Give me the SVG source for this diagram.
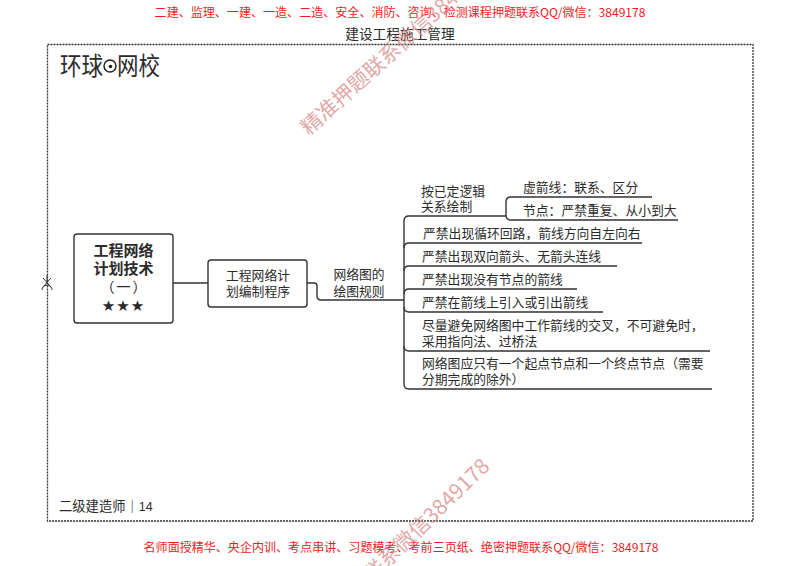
<svg xmlns="http://www.w3.org/2000/svg" width="800" height="566" viewBox="0 0 800 566">
<style>
text{font-family:"Noto Sans CJK SC","Liberation Sans",sans-serif;fill:#2b2b2b}
.t{font-size:12.8px}
.red{font-size:12.05px;fill:#f01c24}
.wm{font-size:21px;fill:#d98a8a;fill-opacity:.75}
.box{fill:#fff;stroke:#333;stroke-width:1.4}
.ln{fill:none;stroke:#333;stroke-width:1.4}
.c{text-anchor:middle}
</style>
<rect width="800" height="566" fill="#fff"/>
<rect id="frame" x="47.5" y="44.5" width="705.5" height="476.500" fill="none" stroke="#333" stroke-width="1.3" stroke-dasharray="2 1"/>
<g id="connectors">
<path class="ln" d="M173 283H208"/>
<path class="ln" d="M307 283H314Q317 283 317 286V296Q317 300 321 300H404"/>
<path class="ln" d="M409 216Q404 216 404 221V384Q404 389 409 389H712"/>
<path class="ln" d="M404 248Q404 243 409 243H642"/>
<path class="ln" d="M404 271Q404 266 409 266H617"/>
<path class="ln" d="M404 294Q404 289 409 289H577"/>
<path class="ln" d="M404 307Q404 312 409 312H603"/>
<path class="ln" d="M404 346Q404 351 409 351H710"/>
<path class="ln" d="M409 216H506"/>
<path class="ln" d="M652 197H511Q506 197 506 202V215Q506 220 511 220H678"/>
</g>
<text class="red c" x="400" y="16.500">二建、监理、一建、一造、二造、安全、消防、咨询、检测课程押题联系QQ/微信：3849178</text>
<text class="c" x="400" y="39" font-size="13.700">建设工程施工管理</text>
<g id="logo">
<text transform="translate(60 75) scale(1 1.14)" font-size="21.500" font-weight="400" fill="#222">环球</text>
<circle cx="110" cy="66" r="6" fill="none" stroke="#222" stroke-width="1.500"/>
<circle cx="110.500" cy="66.500" r="1.800" fill="#222"/>
<text transform="translate(117 75) scale(1 1.14)" font-size="21.500" font-weight="400">网校</text>
</g>
<g id="scissors"><path d="M47 275V283M43 278L51 287M51 278L43 287M42 290Q42 286 47 285Q52 286 52 290" fill="none" stroke="#333" stroke-width="1"/></g>
<g id="root">
<rect class="box" x="74" y="234" width="99" height="89" rx="3"/>
<text class="c" x="123.500" y="256" font-size="15" font-weight="700">工程网络</text>
<text class="c" x="123.500" y="274" font-size="15" font-weight="700">计划技术</text>
<text class="c" x="124.500" y="292" font-size="14" letter-spacing="2">（一）</text>
<text class="c" x="123.500" y="311" font-size="15" letter-spacing="1" fill="#111" style="font-family:'DejaVu Sans',sans-serif">★★★</text>
</g>
<g id="n-program">
<rect class="box" x="208" y="260" width="99" height="47" rx="3"/>
<text class="c t" x="258" y="280">工程网络计</text>
<text class="c t" x="258" y="296">划编制程序</text>
</g>
<g id="n-rules">
<text class="c t" x="359" y="279">网络图的</text>
<text class="c t" x="359" y="296">绘图规则</text>
</g>
<g id="n1"><text class="t" x="421" y="196">按已定逻辑</text><text class="t" x="421" y="211">关系绘制</text></g>
<g id="n1a"><text class="t" x="523" y="192">虚箭线：联系、区分</text></g>
<g id="n1b"><text class="t" x="523" y="215">节点：严禁重复、从小到大</text></g>
<g id="n2"><text class="t" x="423" y="238">严禁出现循环回路，箭线方向自左向右</text></g>
<g id="n3"><text class="t" x="422" y="261">严禁出现双向箭头、无箭头连线</text></g>
<g id="n4"><text class="t" x="422" y="284">严禁出现没有节点的箭线</text></g>
<g id="n5"><text class="t" x="422" y="307">严禁在箭线上引入或引出箭线</text></g>
<g id="n6"><text class="t" x="422" y="330">尽量避免网络图中工作箭线的交叉，不可避免时，</text><text class="t" x="422" y="346">采用指向法、过桥法</text></g>
<g id="n7"><text class="t" x="422" y="368">网络图应只有一个起点节点和一个终点节点（需要</text><text class="t" x="422" y="384">分期完成的除外）</text></g>
<text x="59" y="511" font-size="13.300">二级建造师｜<tspan style="font-family:'Liberation Sans',sans-serif" font-size="12.500">14</tspan></text>
<text class="red c" x="401" y="552">名师面授精华、央企内训、考点串讲、习题模考、考前三页纸、绝密押题联系QQ/微信：3849178</text>
<text class="wm" transform="translate(309 136) rotate(-42)">精准押题联系微信3849178</text>
<text class="wm" text-anchor="end" transform="translate(491 468) rotate(-44)">精准押题联系微信3849178</text>
</svg>
